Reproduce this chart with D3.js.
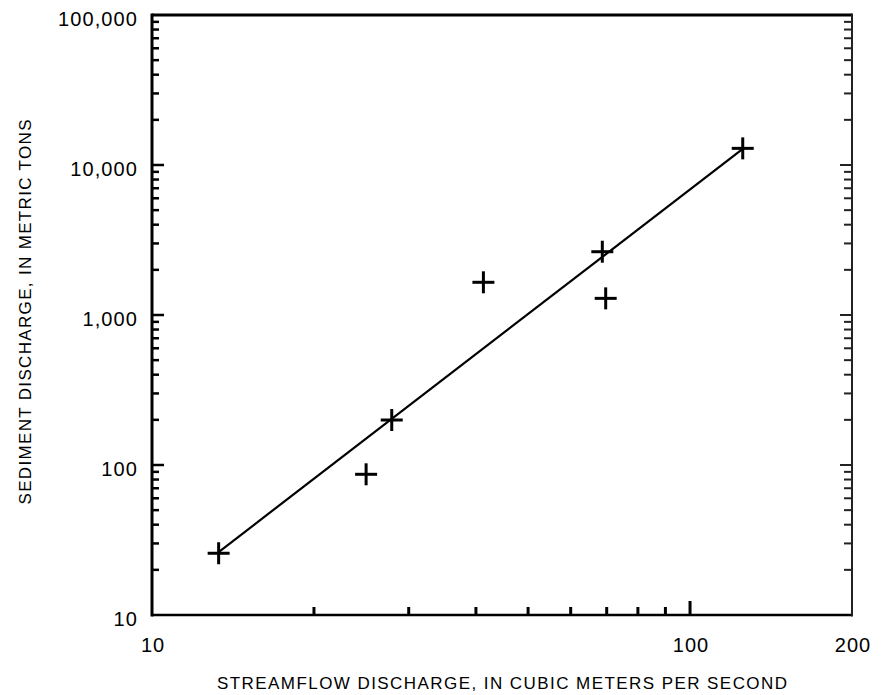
<!DOCTYPE html>
<html>
<head>
<meta charset="utf-8">
<script src="https://cdn.jsdelivr.net/npm/d3@7"></script>
<style>
  html, body { margin: 0; padding: 0; background: #fff; }
  svg { display: block; font-family: "Liberation Sans", Arial, Helvetica, sans-serif; }
</style>
</head>
<body>
<svg id="chart" width="884" height="695"></svg>
<script>
// ---- data ----
const streamflow = [13.3, 25.0, 27.9, 41.3, 68.7, 69.7, 125.3];      // cubic meters per second
const sediment   = [25.8, 86.7, 199.5, 1652, 2642, 1291, 12910];     // metric tons
const fitStreamflow = [13.3, 125.3];
const fitSediment   = [26.3, 12790];
const xTickValues = [10, 100, 200];
const xTickLabels = ["10", "100", "200"];
const xMinorTicks = [20, 30, 40, 50, 60, 70, 80, 90];
const yTickValues = [10, 100, 1000, 10000, 100000];
const yTickLabels = ["10", "100", "1,000", "10,000", "100,000"];
const xTitle = "STREAMFLOW DISCHARGE, IN CUBIC METERS PER SECOND";
const yTitle = "SEDIMENT DISCHARGE, IN METRIC TONS";

// ---- layout ----
const svg = d3.select("#chart");
const L = 152, R = 852, T = 15, B = 615;

const x = d3.scaleLog().domain([10, 200]).range([L, R]);
const y = d3.scaleLog().domain([10, 100000]).range([B, T]);

// minor y ticks: 2..9 in each decade
const yMinor = [];
for (let d = 10; d < 100000; d *= 10) for (let k = 2; k <= 9; k++) yMinor.push(d * k);

const g = svg.append("g");

// y ticks left & right (inward)
g.selectAll(".ymin-l").data(yMinor).join("line")
  .attr("x1", L).attr("x2", L + 7)
  .attr("y1", d => y(d)).attr("y2", d => y(d))
  .attr("stroke", "#000").attr("stroke-width", 2.5);
g.selectAll(".ymin-r").data(yMinor).join("line")
  .attr("x1", R).attr("x2", R - 8)
  .attr("y1", d => y(d)).attr("y2", d => y(d))
  .attr("stroke", "#222").attr("stroke-width", 2);
g.selectAll(".ymaj-l").data(yTickValues.slice(1, -1)).join("line")
  .attr("x1", L).attr("x2", L + 12)
  .attr("y1", d => y(d)).attr("y2", d => y(d))
  .attr("stroke", "#000").attr("stroke-width", 2.5);
g.selectAll(".ymaj-r").data(yTickValues.slice(1, -1)).join("line")
  .attr("x1", R).attr("x2", R - 12)
  .attr("y1", d => y(d)).attr("y2", d => y(d))
  .attr("stroke", "#222").attr("stroke-width", 2);

// x ticks bottom (inward)
g.selectAll(".xmin").data(xMinorTicks).join("line")
  .attr("x1", d => x(d)).attr("x2", d => x(d))
  .attr("y1", B).attr("y2", B - 8)
  .attr("stroke", "#000").attr("stroke-width", 3);
g.selectAll(".xmaj").data([100]).join("line")
  .attr("x1", d => x(d)).attr("x2", d => x(d))
  .attr("y1", B).attr("y2", B - 14)
  .attr("stroke", "#000").attr("stroke-width", 3);

// frame
g.append("line").attr("x1", L).attr("x2", R).attr("y1", T).attr("y2", T)
  .attr("stroke", "#000").attr("stroke-width", 3);
g.append("line").attr("x1", L).attr("x2", R).attr("y1", B).attr("y2", B)
  .attr("stroke", "#000").attr("stroke-width", 2.5);
g.append("line").attr("x1", L).attr("x2", L).attr("y1", T - 1.5).attr("y2", B + 1.5)
  .attr("stroke", "#000").attr("stroke-width", 3);
g.append("line").attr("x1", R).attr("x2", R).attr("y1", T - 1.5).attr("y2", B + 1.5)
  .attr("stroke", "#222").attr("stroke-width", 2);

// tick labels
g.selectAll(".xl").data(xTickValues).join("text")
  .attr("x", d => x(d) + 1).attr("y", 652)
  .attr("text-anchor", "middle")
  .attr("font-size", 20).attr("letter-spacing", 1)
  .text((d, i) => xTickLabels[i]);
g.selectAll(".yl").data(yTickValues).join("text")
  .attr("x", 138).attr("y", d => y(d) + 11)
  .attr("text-anchor", "end")
  .attr("font-size", 20).attr("letter-spacing", 1.1)
  .text((d, i) => yTickLabels[i]);

// axis titles
g.append("text")
  .attr("x", 502).attr("y", 689)
  .attr("text-anchor", "middle")
  .attr("font-size", 17)
  .attr("textLength", 570).attr("lengthAdjust", "spacing")
  .text(xTitle);
g.append("text")
  .attr("transform", "translate(31,312) rotate(-90)")
  .attr("text-anchor", "middle")
  .attr("font-size", 17)
  .attr("textLength", 385).attr("lengthAdjust", "spacing")
  .text(yTitle);

// fitted line
const line = d3.line().x(d => x(d[0])).y(d => y(d[1]));
g.append("path")
  .datum(fitStreamflow.map((v, i) => [v, fitSediment[i]]))
  .attr("d", line)
  .attr("fill", "none").attr("stroke", "#000").attr("stroke-width", 2.2);

// plus markers
const pts = streamflow.map((v, i) => [v, sediment[i]]);
const arm = 11;
g.selectAll(".ph").data(pts).join("line")
  .attr("x1", d => x(d[0]) - arm).attr("x2", d => x(d[0]) + arm)
  .attr("y1", d => y(d[1])).attr("y2", d => y(d[1]))
  .attr("stroke", "#000").attr("stroke-width", 3);
g.selectAll(".pv").data(pts).join("line")
  .attr("x1", d => x(d[0])).attr("x2", d => x(d[0]))
  .attr("y1", d => y(d[1]) - arm).attr("y2", d => y(d[1]) + arm)
  .attr("stroke", "#000").attr("stroke-width", 3);
</script>
</body>
</html>
